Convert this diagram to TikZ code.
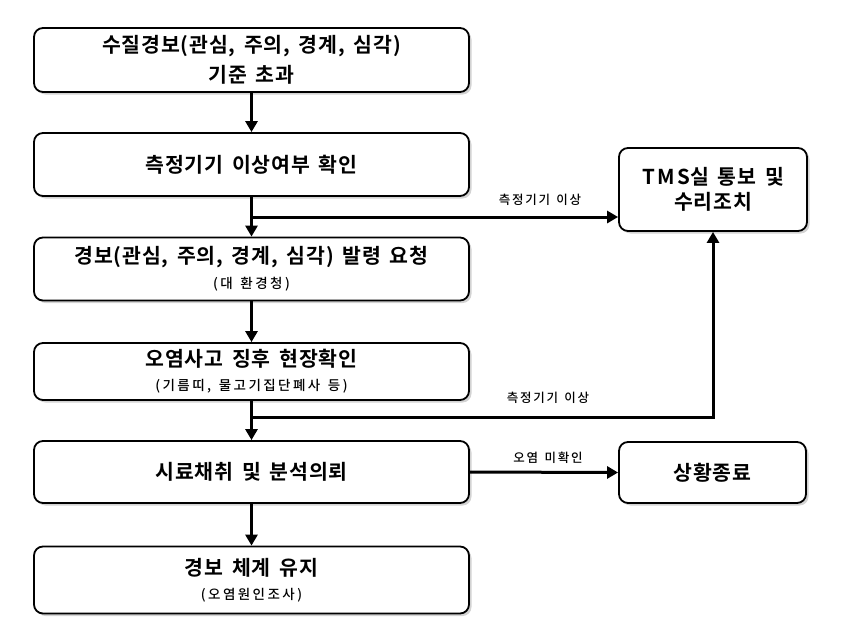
\documentclass[tikz,border=0pt]{standalone}
\usepackage{fontspec}
\setmainfont{Noto Sans CJK KR Bold}
\newfontfamily\krb[LetterSpace=4,WordSpace=1.6]{Noto Sans CJK KR Bold}
\newfontfamily\krbw[LetterSpace=12,WordSpace=1.6]{Noto Sans CJK KR Bold}
\newfontfamily\krm[LetterSpace=18,WordSpace=1.4]{Noto Sans CJK KR Medium}
\newfontfamily\krl[LetterSpace=14,WordSpace=1.4]{Noto Sans CJK KR Medium}
\usetikzlibrary{arrows.meta,shadows}
\newcommand{\bigf}{\krb\fontsize{20.5}{24}\selectfont}
\newcommand{\smallf}{\krm\fontsize{13.5}{18}\selectfont}
\newcommand{\lblf}{\krl\fontsize{12.5}{14}\selectfont}
\tikzset{
  box/.style={draw=black, line width=1.8pt, rounded corners=9pt, fill=white,
    align=center, inner sep=0pt,
    drop shadow={shadow xshift=2.5pt, shadow yshift=-2.5pt, opacity=0.35, fill=gray}},
  conn/.style={line width=3pt, -{Triangle[length=11pt,width=12pt]}},
  lbl/.style={font=\lblf, inner sep=0pt}
}
\begin{document}
\begin{tikzpicture}[x=1pt,y=-1pt]
\useasboundingbox (0,0) rectangle (843,643);
\node[box, minimum width=435pt, minimum height=64pt] (b1) at (251.5,60)
  {\bigf 수질경보(관심, 주의, 경계, 심각)\\[7pt]\bigf 기준 초과};
\node[box, minimum width=435pt, minimum height=63pt] (b2) at (251.5,164.5)
  {\bigf 측정기기 이상여부 확인};
\node[box, minimum width=435pt, minimum height=63pt] (b3) at (251.5,269)
  {\bigf 경보(관심, 주의, 경계, 심각) 발령 요청\\[8pt]\smallf (대 환경청)};
\node[box, minimum width=435pt, minimum height=57pt] (b4) at (251.5,371.5)
  {\bigf 오염사고 징후 현장확인\\[10pt]\smallf (기름띠, 물고기집단폐사 등)};
\node[box, minimum width=435pt, minimum height=62pt] (b5) at (251.5,472)
  {\bigf 시료채취 및 분석의뢰};
\node[box, minimum width=435pt, minimum height=67pt] (b6) at (251.5,580)
  {\bigf 경보 체계 유지\\[10pt]\smallf (오염원인조사)};
\node[box, minimum width=188pt, minimum height=83pt] (tms) at (713,189.5)
  {{\krbw\fontsize{20.5}{24}\selectfont TMS}\bigf 실 통보 및\\[5pt]\bigf 수리조치};
\node[box, minimum width=187pt, minimum height=61pt] (end) at (712.5,472.5)
  {\bigf 상황종료};

\coordinate (j1) at (251.5,217);
\coordinate (j2) at (251.5,417);

\draw[conn] (b1.south) -- (b2.north);
\draw[conn] (b2.south) -- (b3.north);
\draw[conn] (b3.south) -- (b4.north);
\draw[conn] (b4.south) -- (b5.north);
\draw[conn] (b5.south) -- (b6.north);
\draw[conn] (j1) -- (j1 -| tms.west);
\draw[conn] (j2) -| (tms.south);
\draw[conn] (b5.east) -- (end.west);

\node[lbl] (l1) at (540,200) {측정기기 이상};
\node[lbl] (l2) at (548,398) {측정기기 이상};
\node[lbl] (l3) at (548,458) {오염 미확인};
\end{tikzpicture}
\end{document}
